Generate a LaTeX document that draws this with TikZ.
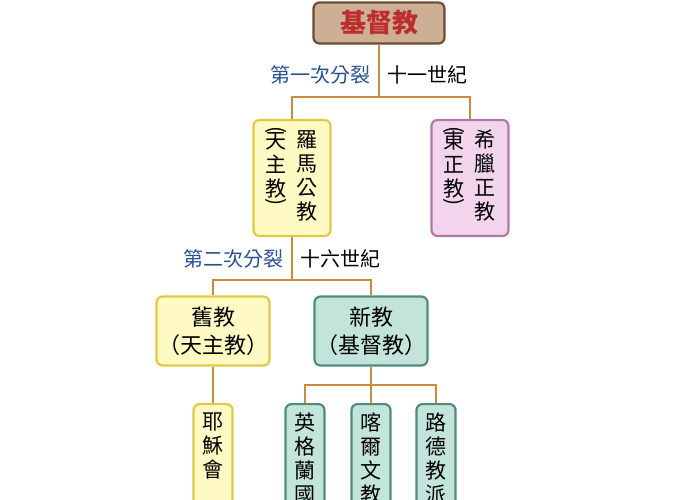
\documentclass[tikz,border=0pt]{standalone}
\usepackage{fontspec}
\usepackage{graphicx}
\setmainfont{Noto Sans CJK TC}
\definecolor{ln}{RGB}{200,140,60}
\definecolor{brf}{RGB}{205,175,150}\definecolor{brd}{RGB}{110,75,50}
\definecolor{yef}{RGB}{255,249,195}\definecolor{yed}{RGB}{225,200,70}
\definecolor{pkf}{RGB}{242,212,236}\definecolor{pkd}{RGB}{175,120,165}
\definecolor{tlf}{RGB}{195,228,218}\definecolor{tld}{RGB}{80,140,125}
\definecolor{bl}{RGB}{40,80,140}\definecolor{rd}{RGB}{190,45,45}
\newcommand{\opn}{\rotatebox[origin=c]{-90}{(}}
\newcommand{\cls}{\rotatebox[origin=c]{-90}{)}}
\tikzset{bx/.style={draw,line width=2.2pt,rounded corners=6pt,inner sep=0pt,align=center},
 con/.style={ln,line width=2pt},
 lb/.style={font=\fontsize{20pt}{20pt}\selectfont,inner sep=1pt},
 vt/.style={anchor=north,font=\fontsize{21pt}{24pt}\selectfont,align=center,inner sep=0pt}}
\begin{document}
\begin{tikzpicture}[x=1pt,y=-1pt]
\useasboundingbox (0,0) rectangle (686,500);
\clip (0,0) rectangle (686,500);
\node[bx,draw=brd,fill=brf,text=rd,minimum width=131,minimum height=41,font=\fontsize{26pt}{26pt}\selectfont\bfseries] (a) at (379,23) {基督教};
\node[bx,draw=yed,fill=yef,minimum width=77,minimum height=116] (b) at (292,178) {};
\node[vt] (bt1) at (307,130) {羅\\馬\\公\\教};
\node[vt] (bt2) at (276,126) {\opn\\[-12pt]天\\主\\教\\[-12pt]\cls};
\node[bx,draw=pkd,fill=pkf,minimum width=77,minimum height=116] (c) at (470,178) {};
\node[vt] (ct1) at (485,130) {希\\臘\\正\\教};
\node[vt] (ct2) at (454,126) {\opn\\[-12pt]東\\正\\教\\[-12pt]\cls};
\node[bx,draw=yed,fill=yef,minimum width=113,minimum height=69,font=\fontsize{22pt}{28pt}\selectfont] (d) at (213,331) {舊教\\（天主教）};
\node[bx,draw=tld,fill=tlf,minimum width=113,minimum height=69,font=\fontsize{22pt}{28pt}\selectfont] (e) at (371,331) {新教\\（基督教）};
\tikzset{vb/.style={bx,minimum width=39,minimum height=140,anchor=north}}
\node[vb,draw=yed,fill=yef] (f) at (213,403) {};
\node[vt] at ([yshift=-10]f.north) {耶\\穌\\會};
\node[vb,draw=tld,fill=tlf] (g) at (305,403) {};
\node[vt] at ([yshift=-10]g.north) {英\\格\\蘭\\國\\教};
\node[vb,draw=tld,fill=tlf] (h) at (371,403) {};
\node[vt] at ([yshift=-10]h.north) {喀\\爾\\文\\教\\派};
\node[vb,draw=tld,fill=tlf] (i) at (436,403) {};
\node[vt] at ([yshift=-10]i.north) {路\\德\\教\\派};
\coordinate (j1) at (379,97);
\coordinate (j2) at (292,280);
\coordinate (j3) at (371,385);
\draw[con] (a.south) -- (j1);
\draw[con] (b.north) |- (j1) -| (c.north);
\draw[con] (b.south) -- (j2);
\draw[con] (d.north) |- (j2) -| (e.north);
\draw[con] (d.south) -- (f.north);
\draw[con] (e.south) -- (j3);
\draw[con] (g.north) |- (j3) -| (i.north);
\draw[con] (j3) -- (h.north);
\node[lb,text=bl,anchor=east] (l1) at (372,75) {第一次分裂};
\node[lb,anchor=west] (l2) at (386,75) {十一世紀};
\node[lb,text=bl,anchor=east] (l3) at (285,259) {第二次分裂};
\node[lb,anchor=west] (l4) at (299,259) {十六世紀};
\end{tikzpicture}
\end{document}
